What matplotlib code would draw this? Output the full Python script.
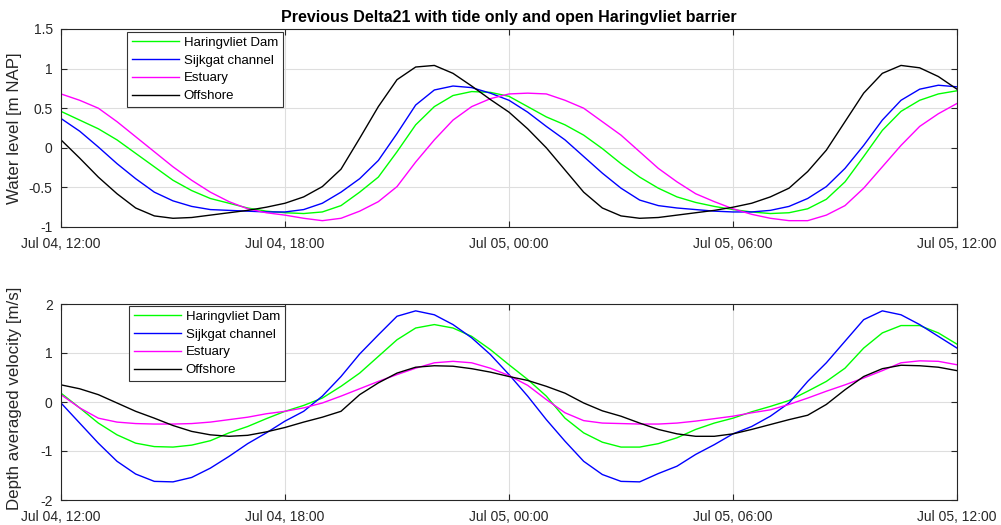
import matplotlib
matplotlib.use("Agg")
import matplotlib.pyplot as plt
import matplotlib.dates as mdates
from matplotlib.ticker import FuncFormatter, FixedLocator
import pandas as pd

plt.rcParams["font.family"] = ["Liberation Sans", "DejaVu Sans"]

# Half-hourly model output, 4 Jul 12:00 to 5 Jul 12:00
times = pd.date_range("2021-07-04 12:00", "2021-07-05 12:00", freq="30min")

labels = ["Haringvliet Dam", "Sijkgat channel", "Estuary", "Offshore"]
colors = ["#00ff00", "#0000ff", "#ff00ff", "#000000"]

# Water level [m NAP]
wl_haringvliet = [0.46, 0.35, 0.24, 0.10, -0.07, -0.24, -0.41, -0.54, -0.64, -0.70,
                  -0.76, -0.80, -0.82, -0.83, -0.81, -0.73, -0.56, -0.37, -0.05, 0.29,
                  0.52, 0.66, 0.71, 0.70, 0.65, 0.52, 0.39, 0.29, 0.16, -0.01,
                  -0.20, -0.37, -0.51, -0.62, -0.69, -0.74, -0.78, -0.81, -0.83, -0.82,
                  -0.77, -0.65, -0.43, -0.11, 0.22, 0.46, 0.60, 0.68, 0.72]
wl_sijkgat = [0.37, 0.21, 0.01, -0.20, -0.39, -0.56, -0.67, -0.74, -0.78, -0.79,
              -0.80, -0.81, -0.81, -0.78, -0.70, -0.56, -0.39, -0.16, 0.18, 0.54,
              0.73, 0.78, 0.76, 0.69, 0.60, 0.45, 0.27, 0.10, -0.11, -0.32,
              -0.51, -0.66, -0.73, -0.76, -0.78, -0.80, -0.81, -0.81, -0.79, -0.74,
              -0.64, -0.49, -0.26, 0.03, 0.35, 0.60, 0.74, 0.79, 0.77]
wl_estuary = [0.68, 0.60, 0.50, 0.33, 0.14, -0.05, -0.24, -0.41, -0.56, -0.68,
              -0.77, -0.82, -0.85, -0.89, -0.92, -0.89, -0.80, -0.68, -0.49, -0.18,
              0.10, 0.35, 0.52, 0.62, 0.68, 0.69, 0.68, 0.60, 0.50, 0.33,
              0.16, -0.05, -0.26, -0.43, -0.58, -0.68, -0.77, -0.84, -0.89, -0.92,
              -0.92, -0.85, -0.73, -0.51, -0.24, 0.03, 0.27, 0.43, 0.56]
wl_offshore = [0.10, -0.13, -0.37, -0.58, -0.76, -0.86, -0.89, -0.88, -0.85, -0.82,
               -0.79, -0.75, -0.70, -0.62, -0.49, -0.27, 0.12, 0.52, 0.86, 1.02,
               1.04, 0.94, 0.78, 0.61, 0.45, 0.24, 0.00, -0.28, -0.56, -0.76,
               -0.86, -0.89, -0.88, -0.85, -0.82, -0.79, -0.75, -0.70, -0.62, -0.51,
               -0.30, -0.03, 0.33, 0.69, 0.94, 1.04, 1.01, 0.90, 0.74]

# Depth averaged velocity [m/s]
u_haringvliet = [0.18, -0.12, -0.43, -0.67, -0.84, -0.91, -0.92, -0.88, -0.79, -0.63,
                 -0.50, -0.34, -0.19, -0.07, 0.08, 0.32, 0.59, 0.93, 1.27, 1.51,
                 1.58, 1.51, 1.34, 1.07, 0.76, 0.46, 0.12, -0.33, -0.63, -0.82,
                 -0.92, -0.92, -0.85, -0.73, -0.56, -0.43, -0.33, -0.20, -0.09, 0.03,
                 0.22, 0.42, 0.69, 1.10, 1.41, 1.56, 1.56, 1.41, 1.18]
u_sijkgat = [-0.02, -0.43, -0.84, -1.21, -1.47, -1.62, -1.63, -1.54, -1.35, -1.11,
             -0.85, -0.63, -0.39, -0.19, 0.12, 0.52, 0.98, 1.37, 1.75, 1.86,
             1.78, 1.58, 1.31, 0.97, 0.56, 0.12, -0.36, -0.80, -1.21, -1.48,
             -1.62, -1.63, -1.46, -1.31, -1.07, -0.87, -0.65, -0.50, -0.29, -0.02,
             0.42, 0.80, 1.24, 1.68, 1.86, 1.78, 1.58, 1.34, 1.10]
u_estuary = [0.15, -0.12, -0.33, -0.41, -0.44, -0.45, -0.45, -0.44, -0.41, -0.36,
             -0.31, -0.24, -0.19, -0.12, -0.02, 0.12, 0.27, 0.42, 0.56, 0.69,
             0.80, 0.83, 0.80, 0.69, 0.54, 0.34, 0.05, -0.22, -0.38, -0.43,
             -0.44, -0.45, -0.45, -0.43, -0.39, -0.34, -0.29, -0.22, -0.16, -0.05,
             0.08, 0.22, 0.35, 0.49, 0.64, 0.80, 0.84, 0.83, 0.76]
u_offshore = [0.35, 0.27, 0.15, -0.02, -0.19, -0.33, -0.48, -0.60, -0.67, -0.70,
              -0.68, -0.61, -0.52, -0.41, -0.31, -0.19, 0.15, 0.39, 0.59, 0.71,
              0.74, 0.73, 0.68, 0.61, 0.52, 0.44, 0.32, 0.18, -0.02, -0.18,
              -0.29, -0.43, -0.56, -0.65, -0.70, -0.70, -0.65, -0.56, -0.46, -0.36,
              -0.27, -0.05, 0.25, 0.52, 0.68, 0.75, 0.74, 0.71, 0.64]

title = "Previous Delta21 with tide only and open Haringvliet barrier"
wl_label = "Water level [m NAP]"
u_label = "Depth averaged velocity [m/s]"
wl_ticks = [-1, -0.5, 0, 0.5, 1, 1.5]
u_ticks = [-2, -1, 0, 1, 2]
xticks = pd.date_range("2021-07-04 12:00", "2021-07-05 12:00", freq="6h")

W, H = 1001, 525
fig = plt.figure(figsize=(W / 100, H / 100), dpi=100)
axc = "#262626"


def make_axes(left, top, right, bottom):
    return fig.add_axes([left / W, 1 - bottom / H, (right - left) / W, (bottom - top) / H])


def style(ax, ylim, yticks, ylabel, legend_top, label_y):
    ax.set_xlim(times[0], times[-1])
    ax.set_ylim(*ylim)
    ax.xaxis.set_major_locator(FixedLocator(mdates.date2num(xticks)))
    ax.xaxis.set_major_formatter(mdates.DateFormatter("%b %d, %H:%M"))
    ax.set_yticks(yticks)
    ax.yaxis.set_major_formatter(FuncFormatter(lambda v, p: "%g" % v))
    ax.grid(True, color="#dedede", linewidth=0.8)
    ax.set_axisbelow(True)
    ax.tick_params(direction="in", length=4, width=0.8, colors=axc, labelsize=10,
                   top=True, right=True, pad=6)
    ax.tick_params(axis="x", pad=7)
    for s in ax.spines.values():
        s.set_color(axc)
        s.set_linewidth(0.8)
    ax.set_ylabel(ylabel, fontsize=12.2, color=axc)
    ax.yaxis.set_label_coords(-0.043, label_y)
    leg = ax.legend(loc="upper left", bbox_to_anchor=(legend_top[0], legend_top[1]),
                    borderaxespad=0, fancybox=False, framealpha=1, edgecolor="#333333",
                    fontsize=9.5, handlelength=3.6, handletextpad=0.35,
                    labelspacing=0.42, borderpad=0.35)
    leg.get_frame().set_linewidth(0.8)


ax1 = make_axes(61, 29, 957, 227)
for y, c, lab in zip([wl_haringvliet, wl_sijkgat, wl_estuary, wl_offshore], colors, labels):
    ax1.plot(times, y, color=c, linewidth=1.0, label=lab)
style(ax1, (-1, 1.5), wl_ticks, wl_label, ((127 - 61) / 896, (227 - 32) / 198), 0.5)
ax1.set_title(title, fontsize=11.5, fontweight="bold", color="black", pad=5)

ax2 = make_axes(61, 304, 957, 500)
for y, c, lab in zip([u_haringvliet, u_sijkgat, u_estuary, u_offshore], colors, labels):
    ax2.plot(times, y, color=c, linewidth=1.0, label=lab)
style(ax2, (-2, 2), u_ticks, u_label, ((129 - 61) / 896, (500 - 306) / 196), 0.52)

fig.savefig("out.png", dpi=100)
